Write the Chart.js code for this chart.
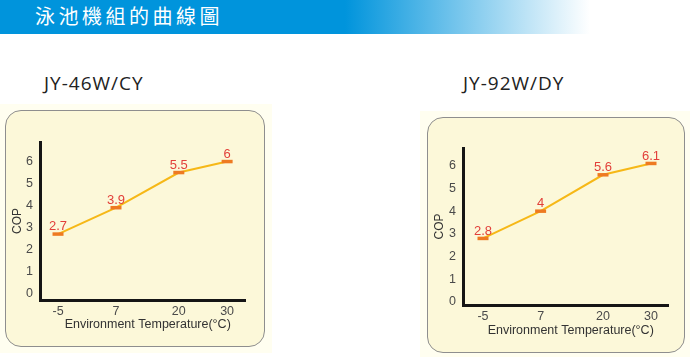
<!DOCTYPE html>
<html>
<head>
<meta charset="utf-8">
<script src="https://cdn.jsdelivr.net/npm/chart.js@4.4.1/dist/chart.umd.min.js"></script>
<style>
    body { margin: 0; width: 690px; height: 357px; background: #fff; position: relative; overflow: hidden; font-family: Arial, "Liberation Sans", sans-serif; }
    #cabecera { position: absolute; left: 0; top: 0; width: 690px; height: 34px; background: linear-gradient(to right, #0094dc 0px, #0094dc 345px, #ffffff 590px); }
    #cabecera span { position: absolute; left: 35px; top: 6px; line-height: 20px; color: #fff; font-size: 20px; font-family: "Noto Sans CJK TC", "Noto Sans CJK SC", sans-serif; letter-spacing: 3.5px; white-space: nowrap; }
    .modelo { position: absolute; top: 74px; line-height: 19px; font-size: 19px; font-family: "Open Sans", sans-serif; color: #222; letter-spacing: 1px; white-space: nowrap; }
    .fondo { position: absolute; background: #fffef0; }
    .grafico { position: absolute; }
    .caja { position: absolute; left: 0; top: 0; right: 0; bottom: 0; box-sizing: border-box; background: #fcf8d9; border: 1.5px solid #8e8e8e; border-radius: 16px; }
    .grafico canvas { position: absolute; left: 0; top: 0; }
</style>
</head>
<body>
<div id="cabecera"><span>泳池機組的曲線圖</span></div>

<div class="modelo" style="left:44px">JY-46W/CY</div>
<div class="modelo" style="left:463px">JY-92W/DY</div>

<div class="fondo" style="left:0;top:104px;width:272px;height:249px"></div>
<div class="fondo" style="left:420px;top:111px;width:270px;height:246px"></div>

<div class="grafico" style="left:5px;top:110px;width:260px;height:237px">
    <div class="caja"></div>
    <canvas id="graficoA" width="260" height="237"></canvas>
</div>
<div class="grafico" style="left:427px;top:117px;width:258px;height:236px">
    <div class="caja"></div>
    <canvas id="graficoB" width="258" height="236"></canvas>
</div>

<script>
// Datos
const temperaturas = [-5, 7, 20, 30];
const copA = [2.7, 3.9, 5.5, 6];
const copB = [2.8, 4, 5.6, 6.1];
const ticksCop = [0, 1, 2, 3, 4, 5, 6];
const tituloX = 'Environment Temperature(°C)';
const tituloY = 'COP';

// Etiquetas rojas encima de cada marca
const etiquetasValor = {
    id: 'etiquetasValor',
    afterDatasetsDraw(chart) {
        const ctx = chart.ctx;
        const meta = chart.getDatasetMeta(0);
        const valores = chart.data.datasets[0].data;
        ctx.save();
        ctx.font = '13px Arial, "Liberation Sans", sans-serif';
        ctx.fillStyle = '#e2403a';
        ctx.textAlign = 'center';
        ctx.textBaseline = 'bottom';
        meta.data.forEach((p, i) => {
            ctx.fillText(String(valores[i].y), p.x, p.y - 1);
        });
        ctx.restore();
    }
};

function crearGrafico(idCanvas, valores, cfg) {
    const ctx = document.getElementById(idCanvas).getContext('2d');
    const puntos = temperaturas.map((t, i) => ({ x: t, y: valores[i] }));

    return new Chart(ctx, {
        type: 'line',
        data: {
            datasets: [{
                data: puntos,
                borderColor: '#f6b817',
                borderWidth: 2,
                pointStyle: 'line',
                pointRadius: 5.5,
                pointBorderWidth: 3.5,
                pointBorderColor: '#ee7a22',
                pointBackgroundColor: '#ee7a22',
                tension: 0
            }]
        },
        options: {
            responsive: false,
            animation: false,
            layout: { padding: { top: cfg.arriba, right: cfg.derecha, left: 0, bottom: 0 } },
            plugins: { legend: { display: false }, tooltip: { enabled: false } },
            scales: {
                x: {
                    type: 'linear',
                    min: cfg.xMin,
                    max: cfg.xMax,
                    afterBuildTicks: s => { s.ticks = temperaturas.map(v => ({ value: v })); },
                    afterFit: s => { s.height = cfg.altoX; },
                    grid: { display: false, drawTicks: false },
                    border: { display: true, color: '#151515', width: 3 },
                    ticks: { color: '#4a4a4a', font: { size: 12.5, family: 'Arial' }, padding: 4, maxRotation: 0 },
                    // espacios delante para correr el título un poco a la derecha, como en la imagen
                    title: { display: true, text: '   ' + tituloX, color: '#333', font: { size: 12.5, family: 'Arial' }, padding: { top: 0, bottom: 15 } }
                },
                y: {
                    min: cfg.yMin,
                    max: cfg.yMax,
                    afterBuildTicks: s => { s.ticks = ticksCop.map(v => ({ value: v })); },
                    afterFit: s => { s.width = cfg.anchoY; },
                    grid: { display: false, drawTicks: false },
                    border: { display: true, color: '#151515', width: 3 },
                    ticks: { color: '#4a4a4a', font: { size: 12.5, family: 'Arial' }, padding: 7 },
                    title: { display: true, text: tituloY, color: '#333', font: { size: 12, family: 'Arial' }, padding: { top: 5, bottom: 0 } }
                }
            }
        },
        plugins: [etiquetasValor]
    });
}

document.addEventListener('DOMContentLoaded', () => {
    crearGrafico('graficoA', copA, {
        arriba: 32, derecha: 20, anchoY: 35, altoX: 47,
        xMin: -8.73, xMax: 33.7, yMin: -0.3, yMax: 6.89
    });
    crearGrafico('graficoB', copB, {
        arriba: 31, derecha: 17, anchoY: 36, altoX: 48,
        xMin: -9.17, xMax: 33.54, yMin: -0.13, yMax: 6.78
    });
});
</script>
</body>
</html>
